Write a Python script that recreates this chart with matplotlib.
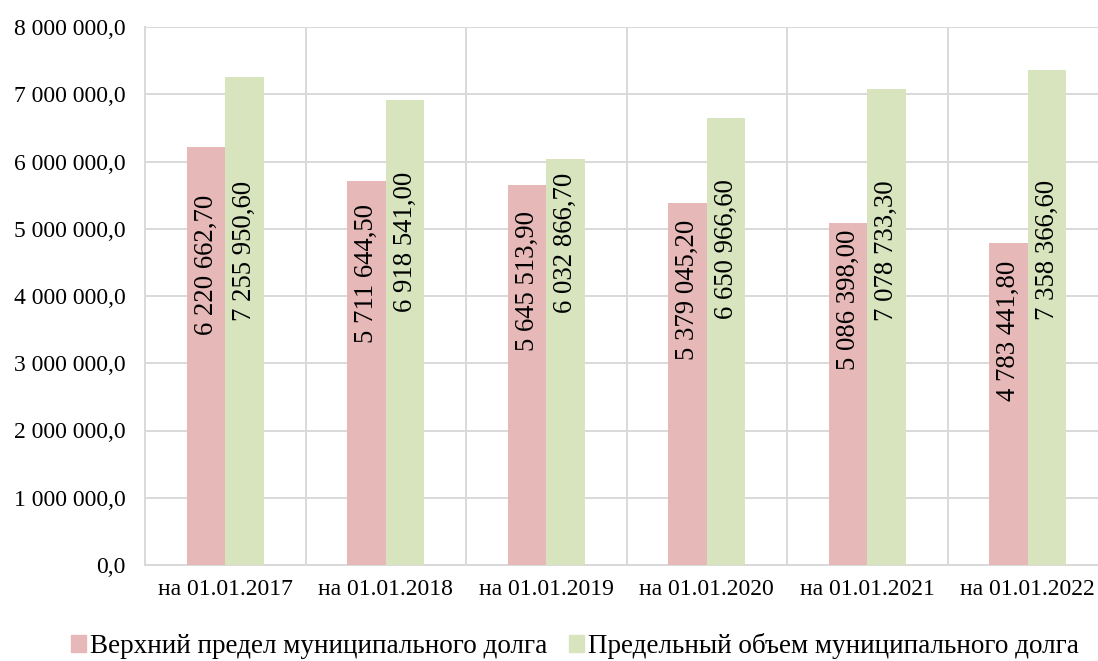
import matplotlib
matplotlib.use("Agg")
import matplotlib.pyplot as plt
from matplotlib.patches import Patch
from matplotlib.ticker import FuncFormatter, MultipleLocator, FixedLocator
import numpy as np

plt.rcParams['font.family'] = ['Liberation Serif', 'DejaVu Serif']

categories = ["на 01.01.2017", "на 01.01.2018", "на 01.01.2019",
              "на 01.01.2020", "на 01.01.2021", "на 01.01.2022"]
upper_limit = [6220662.70, 5711644.50, 5645513.90, 5379045.20, 5086398.00, 4783441.80]
max_volume = [7255950.60, 6918541.00, 6032866.70, 6650966.60, 7078733.30, 7358366.60]
series_names = ["Верхний предел муниципального долга",
                "Предельный объем муниципального долга"]

# layout: vertical centres of the rotated value labels (data units)
label_pos_upper = [4.46e6, 4.34e6, 4.22e6, 4.09e6, 3.94e6, 3.48e6]
label_pos_max = [4.67e6, 4.80e6, 4.79e6, 4.70e6, 4.68e6, 4.68e6]

c_pink = "#E6B8B7"
c_green = "#D7E4BD"
grid_c = "#D9D9D9"
FS = 17
FS_LBL = 19.3
FS_LEG = 19.5

fig = plt.figure(figsize=(10.98, 6.61), dpi=100)
ax = fig.add_axes([145/1098, 1-565/661, (1108-145)/1098, (565-27)/661])

x = np.arange(len(categories))
w = 0.24
ax.bar(x - w/2, upper_limit, w, color=c_pink, zorder=3)
ax.bar(x + w/2, max_volume, w, color=c_green, zorder=3)

def fmt_val(v):
    return f"{v:,.2f}".replace(",", " ").replace(".", ",")

for i in range(len(categories)):
    ax.text(x[i] - w/2, label_pos_upper[i], fmt_val(upper_limit[i]), rotation=90,
            ha='center', va='center', fontsize=FS_LBL, zorder=4)
    ax.text(x[i] + w/2, label_pos_max[i], fmt_val(max_volume[i]), rotation=90,
            ha='center', va='center', fontsize=FS_LBL, zorder=4)

ax.set_xlim(-0.5, len(categories) - 0.5)
ax.set_ylim(0, 8e6)
ax.yaxis.set_major_locator(MultipleLocator(1e6))
ax.yaxis.set_major_formatter(FuncFormatter(
    lambda v, p: f"{v:,.1f}".replace(",", " ").replace(".", ",")))
ax.set_xticks(x)
ax.set_xticklabels(categories)
ax.xaxis.set_minor_locator(FixedLocator(np.arange(0.5, len(categories), 1.0)))

ax.grid(axis='y', which='major', color=grid_c, linewidth=1.4, zorder=0)
ax.grid(axis='x', which='minor', color=grid_c, linewidth=1.4, zorder=0)
ax.grid(axis='x', which='major', visible=False)
for s in ['top', 'right']:
    ax.spines[s].set_visible(False)
for s in ['left', 'bottom']:
    ax.spines[s].set_color(grid_c)
    ax.spines[s].set_linewidth(1.4)
ax.tick_params(axis='both', which='both', length=0, labelsize=FS, colors='black')
ax.tick_params(axis='y', pad=14)
ax.tick_params(axis='x', pad=10)
ax.set_axisbelow(True)

handles = [Patch(color=c_pink), Patch(color=c_green)]
fig.legend(handles, series_names, loc='center', bbox_to_anchor=(575/1098, 1-646/661),
           ncol=2, frameon=False, fontsize=FS_LEG, handlelength=0.55, handleheight=0.55,
           handletextpad=0.15, columnspacing=0.78, borderpad=0, borderaxespad=0)

fig.savefig("out.png", dpi=100)
